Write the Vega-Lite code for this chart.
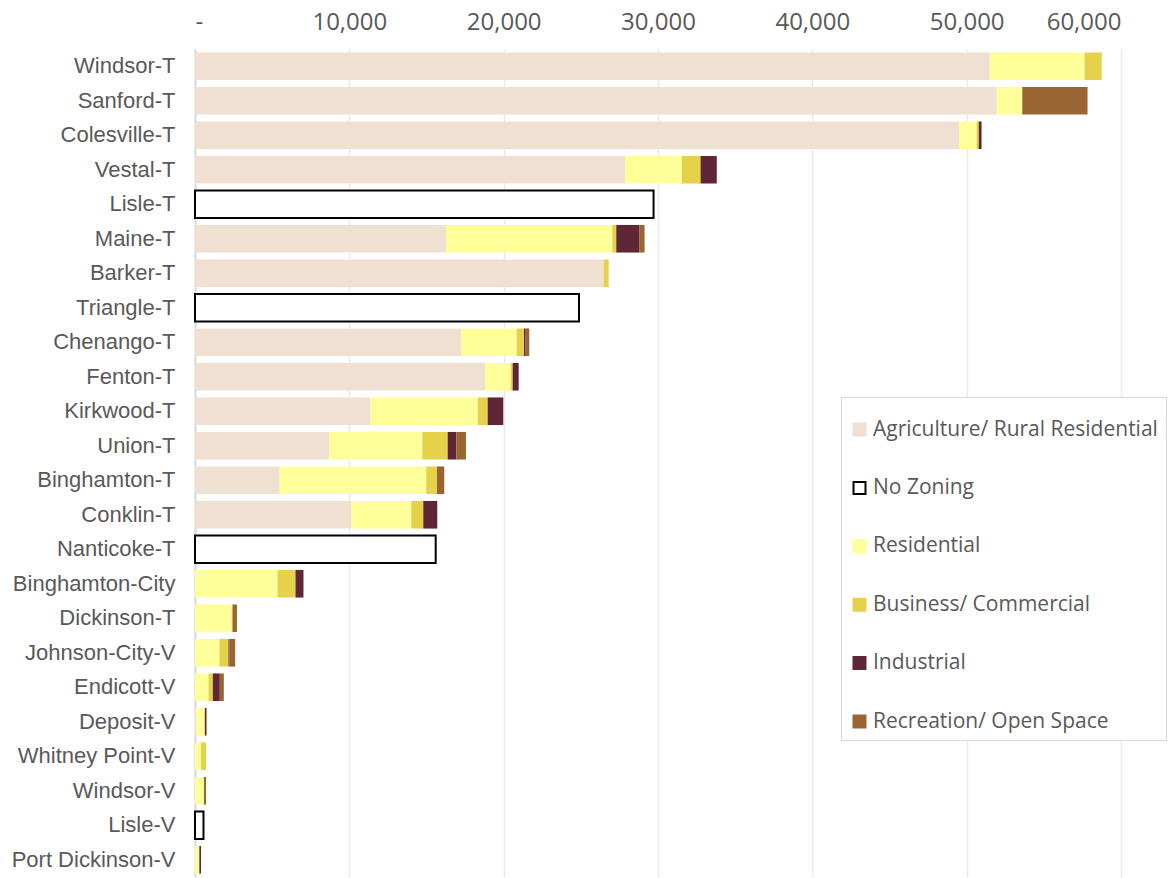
{
  "$schema": "https://vega.github.io/schema/vega-lite/v6.json",
  "width": 926,
  "height": 828,
  "autosize": "none",
  "padding": {"left": 195, "top": 49, "right": 52, "bottom": 1},
  "background": "white",
  "config": {"view": {"stroke": null}},
  "data": {
    "values": [
      {"muni": "Windsor-T", "cat": "Agriculture/ Rural Residential", "k": 1, "acres": 51500},
      {"muni": "Windsor-T", "cat": "Residential", "k": 3, "acres": 6142},
      {"muni": "Windsor-T", "cat": "Business/ Commercial", "k": 4, "acres": 1114},
      {"muni": "Sanford-T", "cat": "Agriculture/ Rural Residential", "k": 1, "acres": 51950},
      {"muni": "Sanford-T", "cat": "Residential", "k": 3, "acres": 1652},
      {"muni": "Sanford-T", "cat": "Recreation/ Open Space", "k": 6, "acres": 4231},
      {"muni": "Colesville-T", "cat": "Agriculture/ Rural Residential", "k": 1, "acres": 49500},
      {"muni": "Colesville-T", "cat": "Residential", "k": 3, "acres": 1140},
      {"muni": "Colesville-T", "cat": "Business/ Commercial", "k": 4, "acres": 143},
      {"muni": "Colesville-T", "cat": "Industrial", "k": 5, "acres": 181},
      {"muni": "Vestal-T", "cat": "Agriculture/ Rural Residential", "k": 1, "acres": 27873},
      {"muni": "Vestal-T", "cat": "Residential", "k": 3, "acres": 3674},
      {"muni": "Vestal-T", "cat": "Business/ Commercial", "k": 4, "acres": 1212},
      {"muni": "Vestal-T", "cat": "Industrial", "k": 5, "acres": 1050},
      {"muni": "Lisle-T", "cat": "No Zoning", "k": 2, "acres": 29713},
      {"muni": "Maine-T", "cat": "Agriculture/ Rural Residential", "k": 1, "acres": 16262},
      {"muni": "Maine-T", "cat": "Residential", "k": 3, "acres": 10775},
      {"muni": "Maine-T", "cat": "Business/ Commercial", "k": 4, "acres": 259},
      {"muni": "Maine-T", "cat": "Industrial", "k": 5, "acres": 1484},
      {"muni": "Maine-T", "cat": "Recreation/ Open Space", "k": 6, "acres": 350},
      {"muni": "Barker-T", "cat": "Agriculture/ Rural Residential", "k": 1, "acres": 26480},
      {"muni": "Barker-T", "cat": "Business/ Commercial", "k": 4, "acres": 324},
      {"muni": "Triangle-T", "cat": "No Zoning", "k": 2, "acres": 24880},
      {"muni": "Chenango-T", "cat": "Agriculture/ Rural Residential", "k": 1, "acres": 17234},
      {"muni": "Chenango-T", "cat": "Residential", "k": 3, "acres": 3609},
      {"muni": "Chenango-T", "cat": "Business/ Commercial", "k": 4, "acres": 473},
      {"muni": "Chenango-T", "cat": "Industrial", "k": 5, "acres": 110},
      {"muni": "Chenango-T", "cat": "Recreation/ Open Space", "k": 6, "acres": 233},
      {"muni": "Fenton-T", "cat": "Agriculture/ Rural Residential", "k": 1, "acres": 18789},
      {"muni": "Fenton-T", "cat": "Residential", "k": 3, "acres": 1665},
      {"muni": "Fenton-T", "cat": "Business/ Commercial", "k": 4, "acres": 130},
      {"muni": "Fenton-T", "cat": "Industrial", "k": 5, "acres": 389},
      {"muni": "Kirkwood-T", "cat": "Agriculture/ Rural Residential", "k": 1, "acres": 11358},
      {"muni": "Kirkwood-T", "cat": "Residential", "k": 3, "acres": 6958},
      {"muni": "Kirkwood-T", "cat": "Business/ Commercial", "k": 4, "acres": 648},
      {"muni": "Kirkwood-T", "cat": "Industrial", "k": 5, "acres": 1011},
      {"muni": "Union-T", "cat": "Agriculture/ Rural Residential", "k": 1, "acres": 8701},
      {"muni": "Union-T", "cat": "Residential", "k": 3, "acres": 6025},
      {"muni": "Union-T", "cat": "Business/ Commercial", "k": 4, "acres": 1646},
      {"muni": "Union-T", "cat": "Industrial", "k": 5, "acres": 557},
      {"muni": "Union-T", "cat": "Recreation/ Open Space", "k": 6, "acres": 628},
      {"muni": "Binghamton-T", "cat": "Agriculture/ Rural Residential", "k": 1, "acres": 5488},
      {"muni": "Binghamton-T", "cat": "Residential", "k": 3, "acres": 9498},
      {"muni": "Binghamton-T", "cat": "Business/ Commercial", "k": 4, "acres": 693},
      {"muni": "Binghamton-T", "cat": "Recreation/ Open Space", "k": 6, "acres": 473},
      {"muni": "Conklin-T", "cat": "Agriculture/ Rural Residential", "k": 1, "acres": 10127},
      {"muni": "Conklin-T", "cat": "Residential", "k": 3, "acres": 3887},
      {"muni": "Conklin-T", "cat": "Business/ Commercial", "k": 4, "acres": 777},
      {"muni": "Conklin-T", "cat": "Industrial", "k": 5, "acres": 907},
      {"muni": "Nanticoke-T", "cat": "No Zoning", "k": 2, "acres": 15595},
      {"muni": "Binghamton-City", "cat": "Residential", "k": 3, "acres": 5345},
      {"muni": "Binghamton-City", "cat": "Business/ Commercial", "k": 4, "acres": 1166},
      {"muni": "Binghamton-City", "cat": "Industrial", "k": 5, "acres": 518},
      {"muni": "Dickinson-T", "cat": "Residential", "k": 3, "acres": 2384},
      {"muni": "Dickinson-T", "cat": "Business/ Commercial", "k": 4, "acres": 50},
      {"muni": "Dickinson-T", "cat": "Recreation/ Open Space", "k": 6, "acres": 285},
      {"muni": "Johnson-City-V", "cat": "Residential", "k": 3, "acres": 1587},
      {"muni": "Johnson-City-V", "cat": "Business/ Commercial", "k": 4, "acres": 583},
      {"muni": "Johnson-City-V", "cat": "Industrial", "k": 5, "acres": 65},
      {"muni": "Johnson-City-V", "cat": "Recreation/ Open Space", "k": 6, "acres": 369},
      {"muni": "Endicott-V", "cat": "Residential", "k": 3, "acres": 875},
      {"muni": "Endicott-V", "cat": "Business/ Commercial", "k": 4, "acres": 279},
      {"muni": "Endicott-V", "cat": "Industrial", "k": 5, "acres": 454},
      {"muni": "Endicott-V", "cat": "Recreation/ Open Space", "k": 6, "acres": 259},
      {"muni": "Deposit-V", "cat": "Agriculture/ Rural Residential", "k": 1, "acres": 78},
      {"muni": "Deposit-V", "cat": "Residential", "k": 3, "acres": 557},
      {"muni": "Deposit-V", "cat": "Industrial", "k": 5, "acres": 91},
      {"muni": "Deposit-V", "cat": "Recreation/ Open Space", "k": 6, "acres": 39},
      {"muni": "Whitney Point-V", "cat": "Residential", "k": 3, "acres": 389},
      {"muni": "Whitney Point-V", "cat": "Business/ Commercial", "k": 4, "acres": 324},
      {"muni": "Windsor-V", "cat": "Residential", "k": 3, "acres": 562},
      {"muni": "Windsor-V", "cat": "Business/ Commercial", "k": 4, "acres": 20},
      {"muni": "Windsor-V", "cat": "Recreation/ Open Space", "k": 6, "acres": 130},
      {"muni": "Lisle-V", "cat": "No Zoning", "k": 2, "acres": 550},
      {"muni": "Port Dickinson-V", "cat": "Residential", "k": 3, "acres": 281},
      {"muni": "Port Dickinson-V", "cat": "Industrial", "k": 5, "acres": 108}
    ]
  },
  "mark": {"type": "bar"},
  "encoding": {
    "y": {
      "field": "muni",
      "type": "nominal",
      "sort": ["Windsor-T", "Sanford-T", "Colesville-T", "Vestal-T", "Lisle-T", "Maine-T", "Barker-T", "Triangle-T", "Chenango-T", "Fenton-T", "Kirkwood-T", "Union-T", "Binghamton-T", "Conklin-T", "Nanticoke-T", "Binghamton-City", "Dickinson-T", "Johnson-City-V", "Endicott-V", "Deposit-V", "Whitney Point-V", "Windsor-V", "Lisle-V", "Port Dickinson-V"],
      "scale": {"paddingInner": 0.2, "paddingOuter": 0.1},
      "axis": {
        "title": null,
        "ticks": false,
        "grid": false,
        "domain": true,
        "domainColor": "#d9d9d9",
        "domainWidth": 2,
        "labelFont": "Liberation Sans",
        "labelFontSize": 22,
        "labelColor": "#595959",
        "labelPadding": 20
      }
    },
    "x": {
      "field": "acres",
      "type": "quantitative",
      "stack": "zero",
      "scale": {"domain": [0, 60000], "nice": false},
      "axis": {
        "orient": "top",
        "title": null,
        "values": [0, 10000, 20000, 30000, 40000, 50000, 60000],
        "labelExpr": "datum.value == 0 ? '-' : format(datum.value, ',')",
        "ticks": false,
        "domain": false,
        "grid": true,
        "gridColor": "#e9e9e9",
        "gridWidth": 1.5,
        "labelFont": "Open Sans",
        "labelFontSize": 24,
        "labelColor": "#595959",
        "labelPadding": 15
      }
    },
    "color": {
      "field": "cat",
      "type": "nominal",
      "scale": {
        "domain": ["Agriculture/ Rural Residential", "No Zoning", "Residential", "Business/ Commercial", "Industrial", "Recreation/ Open Space"],
        "range": ["#EFE0D2", "#FFFFFF", "#FFFF99", "#E6D14B", "#5F2636", "#996633"]
      },
      "legend": {
        "title": " ",
        "titleFontSize": 14,
        "titlePadding": 0,
        "orient": "none",
        "legendX": 646,
        "legendY": 348,
        "symbolType": "square",
        "symbolSize": 144,
        "symbolStrokeWidth": 2,
        "labelFont": "Open Sans",
        "labelFontSize": 21,
        "labelColor": "#595959",
        "labelOffset": 3,
        "labelLimit": 400,
        "rowPadding": 36.4,
        "padding": 8,
        "strokeColor": "#d9d9d9",
        "fillColor": "white"
      }
    },
    "stroke": {
      "field": "cat",
      "type": "nominal",
      "scale": {
        "domain": ["Agriculture/ Rural Residential", "No Zoning", "Residential", "Business/ Commercial", "Industrial", "Recreation/ Open Space"],
        "range": ["#EFE0D2", "#000000", "#FFFF99", "#E6D14B", "#5F2636", "#996633"]
      },
      "legend": {
        "title": " ",
        "orient": "none",
        "legendX": 646,
        "legendY": 348
      }
    },
    "strokeWidth": {
      "condition": {"test": "datum.cat === 'No Zoning'", "value": 2},
      "value": 0
    },
    "order": {"field": "k", "type": "quantitative"}
  }
}
